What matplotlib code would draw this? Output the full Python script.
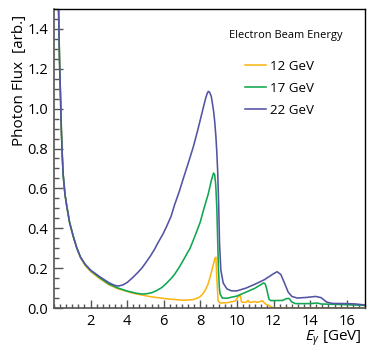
import matplotlib
matplotlib.use("Agg")
import matplotlib.pyplot as plt
from matplotlib.ticker import MultipleLocator, FixedLocator, FormatStrFormatter

# ---- data ----
x_22 = [0.2, 0.22, 0.25, 0.3, 0.35, 0.4, 0.45, 0.5, 0.6, 0.7, 0.85, 1.05, 1.25, 1.45, 1.7, 2.0,
        2.5, 3.0, 3.3, 3.5, 3.75, 4.0, 4.33, 4.6, 4.8, 5.0, 5.25, 5.5, 5.7, 5.95, 6.16, 6.4, 6.6,
        6.85, 7.07, 7.35, 7.62, 7.85, 8.08, 8.2, 8.3, 8.38, 8.44, 8.52, 8.6, 8.67, 8.72, 8.78,
        8.85, 8.9, 8.95, 9.0, 9.05, 9.12, 9.25, 9.45, 9.7, 10.0, 10.5, 11.0, 11.5, 12.0, 12.2,
        12.4, 12.6, 12.8, 13.0, 13.3, 13.8, 14.3, 14.6, 14.9, 15.2, 16.0, 16.5, 17.0]
y_22 = [1.9, 1.7, 1.5, 1.25, 1.08, 0.9, 0.77, 0.67, 0.57, 0.51, 0.43, 0.36, 0.3, 0.255, 0.22, 0.19,
        0.157, 0.127, 0.114, 0.11, 0.115, 0.128, 0.155, 0.18, 0.2, 0.225, 0.258, 0.295, 0.33, 0.37,
        0.41, 0.46, 0.52, 0.585, 0.65, 0.73, 0.81, 0.89, 0.975, 1.02, 1.055, 1.078, 1.087, 1.08,
        1.06, 1.02, 0.99, 0.94, 0.86, 0.78, 0.68, 0.52, 0.32, 0.19, 0.125, 0.096, 0.086, 0.086,
        0.1, 0.12, 0.142, 0.172, 0.182, 0.168, 0.125, 0.08, 0.058, 0.05, 0.053, 0.058, 0.052,
        0.03, 0.023, 0.022, 0.02, 0.015]

x_17 = [0.2, 0.22, 0.25, 0.3, 0.35, 0.4, 0.45, 0.5, 0.6, 0.7, 0.85, 1.05, 1.25, 1.45, 1.7, 2.0,
        2.5, 3.0, 3.5, 4.0, 4.5, 4.8, 5.1, 5.35, 5.6, 5.9, 6.16, 6.4, 6.6, 6.85, 7.07, 7.25, 7.44,
        7.7, 7.99, 8.2, 8.44, 8.6, 8.72, 8.78, 8.84, 8.9, 8.95, 8.99, 9.04, 9.08, 9.2, 9.45, 10.0,
        10.36, 11.0, 11.46, 11.55, 11.64, 11.75, 11.85, 12.5, 12.7, 12.85, 13.0, 13.2, 14.0, 14.4,
        14.6, 15.5, 17.0]
y_17 = [1.9, 1.7, 1.5, 1.25, 1.08, 0.9, 0.77, 0.67, 0.57, 0.51, 0.43, 0.36, 0.3, 0.255, 0.218, 0.188,
        0.152, 0.12, 0.1, 0.085, 0.074, 0.07, 0.072, 0.077, 0.087, 0.103, 0.125, 0.148, 0.17, 0.205,
        0.24, 0.27, 0.30, 0.36, 0.43, 0.5, 0.575, 0.64, 0.677, 0.67, 0.62, 0.5, 0.33, 0.19, 0.1,
        0.07, 0.05, 0.049, 0.06, 0.074, 0.1, 0.126, 0.12, 0.09, 0.045, 0.037, 0.038, 0.047, 0.048,
        0.03, 0.022, 0.022, 0.025, 0.02, 0.018, 0.013]

x_12 = [0.2, 0.22, 0.25, 0.3, 0.35, 0.4, 0.45, 0.5, 0.6, 0.7, 0.85, 1.05, 1.25, 1.45, 1.7, 2.0,
        2.5, 3.0, 3.42, 4.33, 5.25, 6.16, 7.07, 7.6, 7.85, 8.0, 8.17, 8.3, 8.4, 8.52, 8.63, 8.73,
        8.8, 8.85, 8.9, 8.97, 9.1, 9.5, 9.9, 10.1, 10.18, 10.25, 10.5, 10.6, 10.7, 11.0, 11.1,
        11.4, 11.5, 11.6, 11.8, 12.0, 17.0]
y_12 = [1.9, 1.7, 1.5, 1.25, 1.08, 0.9, 0.77, 0.67, 0.57, 0.51, 0.43, 0.36, 0.3, 0.252, 0.214, 0.183,
        0.147, 0.117, 0.099, 0.074, 0.057, 0.046, 0.039, 0.042, 0.05, 0.058, 0.075, 0.095, 0.115,
        0.15, 0.19, 0.225, 0.25, 0.255, 0.15, 0.035, 0.025, 0.027, 0.035, 0.06, 0.065, 0.03, 0.028,
        0.038, 0.028, 0.032, 0.028, 0.036, 0.025, 0.018, 0.01, 0.0, 0.0]

labels = ["12 GeV", "17 GeV", "22 GeV"]
legend_title = "Electron Beam Energy"
colors = ["#FDB515", "#10A650", "#5353A3"]
xticks = [2, 4, 6, 8, 10, 12, 14, 16]
yticks = [0.0, 0.2, 0.4, 0.6, 0.8, 1.0, 1.2, 1.4]

FONT = "Open Sans"
plt.rcParams["font.family"] = [FONT, "DejaVu Sans"]
plt.rcParams["mathtext.fontset"] = "custom"
plt.rcParams["mathtext.rm"] = FONT
plt.rcParams["mathtext.it"] = FONT + ":italic"

fig = plt.figure(figsize=(3.74, 3.57), dpi=100)
ax = fig.add_axes([54 / 374, (357 - 308) / 357, 311 / 374, 299 / 357])

for xs, ys, lab, c in zip([x_12, x_17, x_22], [y_12, y_17, y_22], labels, colors):
    ax.plot(xs, ys, color=c, lw=1.15, label=lab, solid_joinstyle="round")

ax.set_xlim(0, 17)
ax.set_ylim(0, 1.5)

ax.xaxis.set_major_locator(FixedLocator(xticks))
ax.xaxis.set_minor_locator(MultipleLocator(1 / 3))
ax.yaxis.set_major_locator(FixedLocator(yticks))
ax.yaxis.set_minor_locator(MultipleLocator(0.05))
ax.yaxis.set_major_formatter(FormatStrFormatter("%.1f"))

axcol = "#555555"
ax.tick_params(axis="both", which="both", direction="in", top=False, right=False,
               color=axcol, width=1.0)
ax.tick_params(axis="x", which="major", length=6, labelsize=10.5, pad=4)
ax.tick_params(axis="x", which="minor", length=3)
ax.tick_params(axis="y", which="major", length=6.5, labelsize=10.5, pad=4)
ax.tick_params(axis="y", which="minor", length=3.5)

for s in ["left", "bottom"]:
    ax.spines[s].set_color(axcol)
    ax.spines[s].set_linewidth(1.2)
for s in ["top", "right"]:
    ax.spines[s].set_color("black")
    ax.spines[s].set_linewidth(1.0)

ax.set_ylabel("Photon Flux  [arb.]", fontsize=11, loc="top")
ax.yaxis.set_label_coords(-0.086, 0.98)
ax.set_xlabel(r"$\mathit{E}_{\gamma}$ [GeV]", fontsize=11, loc="right")
ax.xaxis.set_label_coords(0.99, -0.068)

ax.text(0.744, 0.913, legend_title, transform=ax.transAxes, ha="center", va="center",
        fontsize=7.9)
leg = ax.legend(loc="upper left", bbox_to_anchor=(0.614, 0.831), frameon=False,
                fontsize=9.6, handlelength=1.55, handletextpad=0.32,
                labelspacing=0.68, borderpad=0.0, borderaxespad=0.0)

fig.savefig("out.png", dpi=100)
